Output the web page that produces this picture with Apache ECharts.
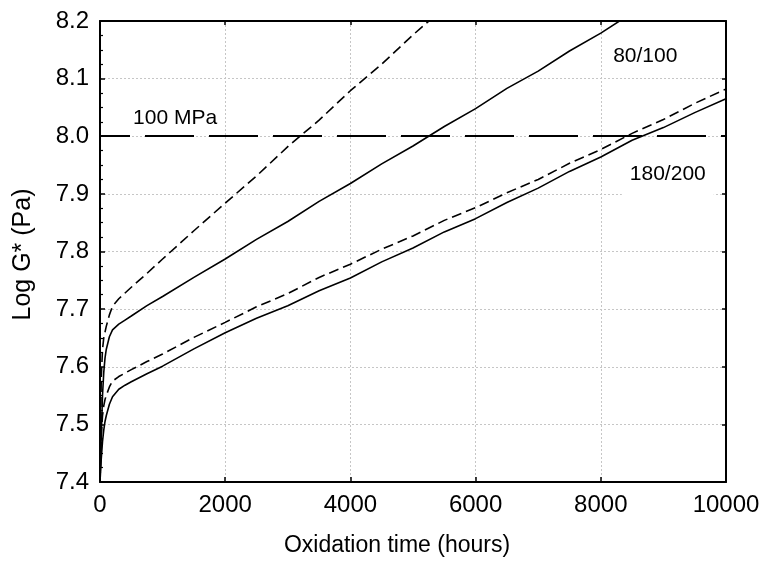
<!DOCTYPE html>
<html>
<head>
<meta charset="utf-8">
<script src="https://cdn.jsdelivr.net/npm/echarts@6/dist/echarts.min.js"></script>
<style>
  html, body { margin: 0; padding: 0; background: #fff; }
  #chart { width: 763px; height: 568px; }
</style>
</head>
<body>
<div id="chart"></div>
<script>
// Oxidation time in hours (shared sample times)
const hours = [0, 20, 40, 60, 80, 100, 150, 200, 300, 400, 500, 750, 1000, 1500, 2000, 2500,
  3000, 3500, 4000, 4500, 5000, 5500, 6000, 6500, 7000, 7500, 8000, 8500, 9000, 9500, 10000];

// Log G* (Pa) for the 80/100 binder
const grade80Solid = [7.40, 7.48, 7.55, 7.59, 7.615, 7.63, 7.652, 7.664, 7.674, 7.681, 7.688, 7.706,
  7.722, 7.755, 7.787, 7.821, 7.852, 7.887, 7.918, 7.952, 7.983, 8.017, 8.048, 8.083, 8.113, 8.148,
  8.179, 8.214, null, null, null];
const grade80Dashed = [7.40, 7.58, 7.63, 7.65, 7.66, 7.67, 7.69, 7.705, 7.718, 7.728, 7.738, 7.762,
  7.787, 7.836, 7.884, 7.931, 7.982, 8.028, 8.079, 8.125, 8.176, 8.223, null, null, null, null,
  null, null, null, null, null];

// Log G* (Pa) for the 180/200 binder
const grade180Solid = [7.40, 7.44, 7.47, 7.49, 7.505, 7.515, 7.535, 7.548, 7.561, 7.568, 7.574, 7.588,
  7.601, 7.631, 7.659, 7.684, 7.706, 7.732, 7.754, 7.782, 7.806, 7.834, 7.857, 7.885, 7.910, 7.939,
  7.964, 7.993, 8.015, 8.041, 8.065];
const grade180Dashed = [7.40, 7.48, 7.515, 7.532, 7.543, 7.550, 7.565, 7.575, 7.583, 7.589, 7.595, 7.609,
  7.622, 7.651, 7.677, 7.704, 7.727, 7.755, 7.778, 7.804, 7.827, 7.854, 7.876, 7.902, 7.925, 7.953,
  7.977, 8.005, 8.029, 8.057, 8.082];

// 100 MPa stiffness threshold (log10 of 1e8 Pa)
const thresholdLog = 8.0;

// Text annotations: [hours, Log G*, text]
const annotations = [
  [1200, 8.032, '100 MPa'],
  [8710, 8.139, '80/100'],
  [9070, 7.934, '180/200']
];

const FONT = "'Liberation Sans', Arial, sans-serif";

function pairs(ys) {
  return hours.map((h, i) => [h, ys[i]]);
}

const chart = echarts.init(document.getElementById('chart'), null, { renderer: 'canvas' });

const gridLine = { show: true, lineStyle: { color: '#c6c6c6', type: [2, 2], width: 1 } };
const axisLine = { show: true, onZero: false, lineStyle: { color: '#000', width: 2 } };

const curveStyle = (dashed) => ({
  type: 'line',
  showSymbol: false,
  symbol: 'none',
  connectNulls: false,
  clip: true,
  animation: false,
  silent: true,
  lineStyle: { color: '#000', width: 1.6, type: dashed ? [10, 5] : 'solid' }
});

chart.setOption({
  backgroundColor: '#fff',
  animation: false,
  grid: { left: 100, right: 37, top: 21, bottom: 86 },
  xAxis: [
    {
      type: 'value', position: 'bottom', min: 0, max: 10000, interval: 2000,
      axisLine: axisLine,
      axisTick: { show: true, inside: true, length: 5, lineStyle: { color: '#000', width: 1.5 } },
      axisLabel: {
        margin: 11, color: '#000', fontFamily: FONT, fontSize: 24,
        formatter: (v) => String(v)
      },
      splitLine: gridLine,
      name: 'Oxidation time (hours)', nameLocation: 'middle', nameGap: 52,
      nameTextStyle: { color: '#000', fontFamily: FONT, fontSize: 23, padding: [0, 32, 0, 0] }
    },
    {
      type: 'value', position: 'top', min: 0, max: 10000, interval: 2000,
      axisLine: axisLine,
      axisTick: { show: true, inside: true, length: 4, lineStyle: { color: '#000', width: 1.5 } },
      axisLabel: { show: false },
      splitLine: { show: false }
    }
  ],
  yAxis: [
    {
      type: 'value', position: 'left', min: 7.4, max: 8.2, interval: 0.1,
      axisLine: axisLine,
      axisTick: { show: true, inside: true, length: 5, lineStyle: { color: '#000', width: 1.5 } },
      minorTick: { show: true, splitNumber: 4, length: 3, lineStyle: { color: '#000', width: 1.2 } },
      axisLabel: {
        margin: 11, color: '#000', fontFamily: FONT, fontSize: 24,
        formatter: (v) => v.toFixed(1)
      },
      splitLine: gridLine,
      name: 'Log G* (Pa)', nameLocation: 'middle', nameGap: 64, nameRotate: 90,
      nameTextStyle: { color: '#000', fontFamily: FONT, fontSize: 25, padding: [0, 6, 0, 0] }
    },
    {
      type: 'value', position: 'right', min: 7.4, max: 8.2, interval: 0.1,
      axisLine: axisLine,
      axisTick: { show: true, inside: true, length: 4, lineStyle: { color: '#000', width: 1.5 } },
      axisLabel: { show: false },
      splitLine: { show: false }
    }
  ],
  series: [
    Object.assign(curveStyle(false), {
      name: '80/100 solid', data: pairs(grade80Solid),
      markLine: {
        silent: true, symbol: 'none', animation: false,
        label: { show: false },
        lineStyle: { color: '#000', width: 2, type: [49, 15], dashOffset: 19 },
        data: [{ yAxis: thresholdLog }]
      }
    }),
    Object.assign(curveStyle(true), { name: '80/100 dashed', data: pairs(grade80Dashed) }),
    Object.assign(curveStyle(false), { name: '180/200 solid', data: pairs(grade180Solid) }),
    Object.assign(curveStyle(true), { name: '180/200 dashed', data: pairs(grade180Dashed) }),
    {
      type: 'scatter',
      name: 'labels',
      symbolSize: 0,
      silent: true,
      animation: false,
      z: 5,
      itemStyle: { opacity: 1 },
      data: annotations.map((a, i) => ({
        value: [a[0], a[1]],
        label: {
          show: true,
          position: 'inside',
          formatter: a[2],
          color: '#000',
          textBorderWidth: 0,
          fontFamily: FONT,
          fontSize: 21,
          backgroundColor: i === 0 ? 'transparent' : '#fff',
          padding: i === 0 ? 0 : [10, 8, 12, 8]
        }
      }))
    }
  ]
});
</script>
</body>
</html>
